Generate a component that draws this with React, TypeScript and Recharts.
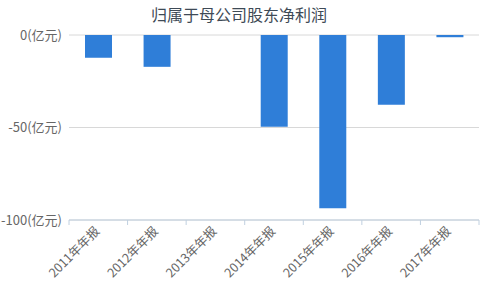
import { BarChart, Bar, XAxis, YAxis, CartesianGrid, Cell } from "recharts";

const years = [
  "2011年年报",
  "2012年年报",
  "2013年年报",
  "2014年年报",
  "2015年年报",
  "2016年年报",
  "2017年年报",
];
// 归属于母公司股东净利润 (亿元)
const netProfit = [-12.3, -17.2, 0.6, -49.6, -93.7, -37.7, -1.2];
const yTicks = [-100, -50, 0];

const data = years.map((year, i) => ({ year, value: netProfit[i] }));

const W = 484;
const H = 292;
const M = { top: 35, right: 5, left: 0, bottom: 0 };
const Y_W = 69;
const BAND = (W - M.right - Y_W) / years.length;

function XTick(props: any) {
  const { x, y, index, payload } = props;
  const last = index === years.length - 1;
  return (
    <g>
      <line x1={x - BAND / 2} x2={x - BAND / 2} y1={y - 8} y2={y - 3} stroke="#c0d0e0" />
      {last && (
        <line x1={x + BAND / 2} x2={x + BAND / 2} y1={y - 8} y2={y - 3} stroke="#c0d0e0" />
      )}
      <text
        x={x + 2}
        y={y + 4}
        textAnchor="end"
        fontSize={12.5}
        fill="#666"
        transform={`rotate(-45 ${x + 2} ${y + 4})`}
      >
        {payload.value}
      </text>
    </g>
  );
}

export default function App() {
  return (
    <div
      style={{
        position: "absolute",
        left: 0,
        top: 0,
        width: W,
        height: H,
        background: "#fff",
        fontFamily: "'Noto Sans CJK SC', 'DejaVu Sans', sans-serif",
      }}
    >
      <div
        style={{
          position: "absolute",
          top: 4,
          left: 0,
          width: 478,
          textAlign: "center",
          fontSize: 16,
          color: "#3e4a56",
          lineHeight: "20px",
        }}
      >
        归属于母公司股东净利润
      </div>
      <BarChart width={W} height={H} data={data} margin={M} barSize={27}>
        <CartesianGrid horizontal vertical={false} stroke="#d8d8d8" />
        <XAxis
          dataKey="year"
          interval={0}
          height={72}
          axisLine={{ stroke: "#c0d0e0" }}
          tickLine={false}
          tick={<XTick />}
          orientation="bottom"
        />
        <YAxis
          width={Y_W}
          domain={[-100, 0]}
          ticks={yTicks}
          allowDataOverflow
          axisLine={false}
          tickLine={false}
          tickFormatter={(v: number) => `${v}(亿元)`}
          tick={{ fontSize: 13, fill: "#666", dx: 1 }}
        />
        <Bar dataKey="value" fill="#2f7ed8" isAnimationActive={false}>
          {data.map((d, i) => (
            <Cell key={d.year} fill={d.value > 0 ? "#ffffff" : "#2f7ed8"} />
          ))}
        </Bar>
      </BarChart>
    </div>
  );
}
